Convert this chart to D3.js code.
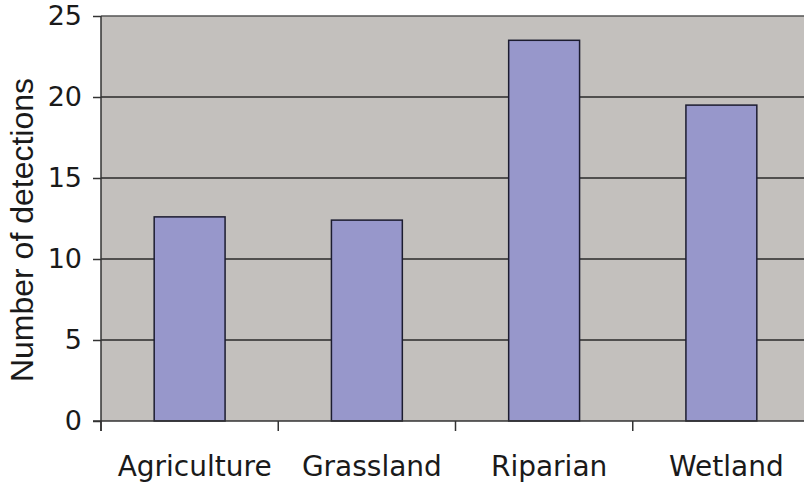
<!DOCTYPE html>
<html>
<head>
<meta charset="utf-8">
<script src="https://cdn.jsdelivr.net/npm/d3@7"></script>
<style>
  html, body { margin: 0; padding: 0; background: #ffffff; }
  svg { display: block; }
</style>
</head>
<body>
<svg id="chart" width="804" height="484"></svg>
<script>
const categories = ["Agriculture", "Grassland", "Riparian", "Wetland"];
const detections = [12.6, 12.4, 23.5, 19.5];
const yTicks = [0, 5, 10, 15, 20, 25];
const yTitle = "Number of detections";

const svg = d3.select("#chart");
const margin = { left: 101, top: 16, bottom: 63 };
const plotW = 709;
const plotH = 484 - margin.top - margin.bottom;

const x = d3.scaleBand().domain(categories).range([margin.left, margin.left + plotW])
  .paddingInner(0.6).paddingOuter(0.3);
const y = d3.scaleLinear().domain([0, 25]).range([margin.top + plotH, margin.top]);

// plot background
svg.append("rect")
  .attr("x", margin.left).attr("y", margin.top)
  .attr("width", plotW).attr("height", plotH)
  .attr("fill", "#c3c0bd");

// gridlines
svg.append("g").selectAll("line").data(yTicks.filter(d => d > 0)).join("line")
  .attr("x1", margin.left).attr("x2", margin.left + plotW)
  .attr("y1", d => y(d)).attr("y2", d => y(d))
  .attr("stroke", d => d === 25 ? "#555555" : "#2a2a2a")
  .attr("stroke-width", 1.5);

// bars
svg.append("g").selectAll("rect").data(categories).join("rect")
  .attr("x", d => x(d))
  .attr("y", (d, i) => y(detections[i]))
  .attr("width", x.bandwidth())
  .attr("height", (d, i) => y(0) - y(detections[i]))
  .attr("fill", "#9797cb")
  .attr("stroke", "#1c1c30")
  .attr("stroke-width", 1.5);

// y axis
const yAxis = d3.axisLeft(y).tickValues(yTicks).tickSize(8).tickPadding(11).tickSizeOuter(0);
const gy = svg.append("g").attr("transform", `translate(${margin.left},0)`).call(yAxis);
gy.select(".domain").remove();
gy.append("line").attr("x1", 0).attr("x2", 0)
  .attr("y1", margin.top).attr("y2", y(0) + 10)
  .attr("stroke", "#333333").attr("stroke-width", 1.5);
gy.selectAll(".tick line").attr("stroke", "#333333").attr("stroke-width", 1.5);
gy.selectAll(".tick text")
  .attr("font-family", "DejaVu Sans").attr("font-size", 27).attr("fill", "#1a1a1a");

// x axis
const step = x.step();
const boundaries = categories.map((c, i) => margin.left + i * step);
const gx = svg.append("g").attr("transform", `translate(0,${y(0)})`);
gx.append("line").attr("x1", margin.left - 8).attr("x2", margin.left + plotW)
  .attr("y1", 0).attr("y2", 0).attr("stroke", "#333333").attr("stroke-width", 1.5);
gx.selectAll("line.tk").data(boundaries).join("line").attr("class", "tk")
  .attr("x1", d => d).attr("x2", d => d).attr("y1", 0).attr("y2", 10)
  .attr("stroke", "#333333").attr("stroke-width", 1.5);
gx.selectAll("text").data(categories).join("text")
  .attr("x", d => x(d) + x.bandwidth() / 2 + 5)
  .attr("y", 55)
  .attr("text-anchor", "middle")
  .attr("font-family", "DejaVu Sans").attr("font-size", 28).attr("fill", "#1a1a1a")
  .text(d => d);

// y title
svg.append("text")
  .attr("transform", `translate(33,230) rotate(-90)`)
  .attr("text-anchor", "middle")
  .attr("font-family", "Liberation Sans").attr("font-size", 32).attr("fill", "#1a1a1a")
  .text(yTitle);
</script>
</body>
</html>
